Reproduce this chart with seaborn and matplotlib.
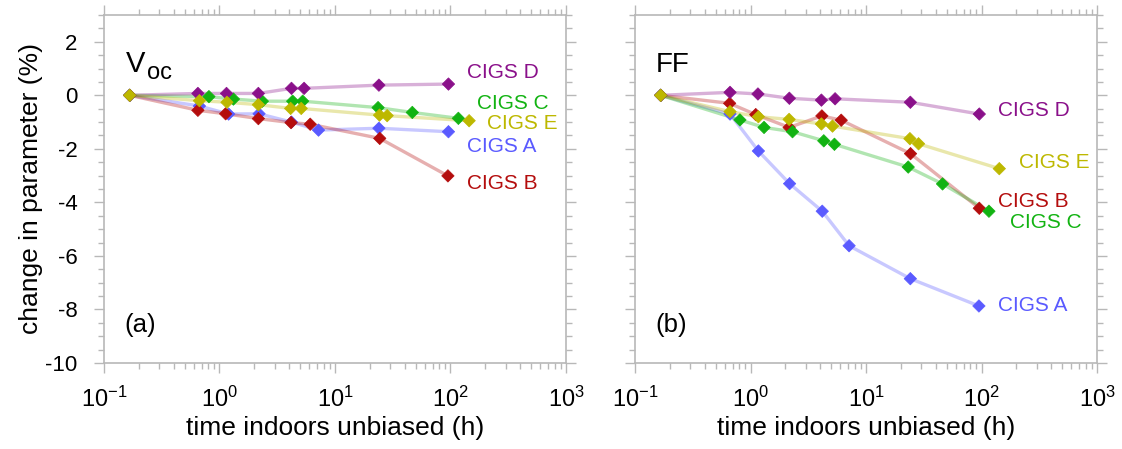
import numpy as np
import pandas as pd
import matplotlib
matplotlib.use("Agg")
import matplotlib.pyplot as plt
from matplotlib.ticker import MultipleLocator, LogLocator
from matplotlib.transforms import offset_copy
import seaborn as sns

# Voc panel (a): time (h) and change (%) per device
voc_t_a = [0.167, 0.67, 1.2, 2.2, 4.2, 7.2, 24, 96]
voc_a = [0, -0.40, -0.70, -0.69, -1.0, -1.30, -1.23, -1.36]
voc_t_b = [0.167, 0.65, 1.13, 2.17, 4.16, 6.1, 24.4, 95]
voc_b = [0, -0.56, -0.69, -0.87, -1.02, -1.08, -1.61, -3.01]
voc_t_c = [0.167, 0.81, 1.32, 2.35, 4.3, 5.25, 23.6, 46.7, 117]
voc_c = [0, -0.05, -0.14, -0.22, -0.22, -0.22, -0.46, -0.64, -0.86]
voc_t_d = [0.167, 0.65, 1.15, 2.17, 4.2, 5.4, 24, 96]
voc_d = [0, 0.07, 0.07, 0.07, 0.26, 0.26, 0.38, 0.42]
voc_t_e = [0.167, 0.67, 1.16, 2.17, 4.13, 5.1, 24.3, 28.3, 145]
voc_e = [0, -0.20, -0.26, -0.35, -0.49, -0.49, -0.74, -0.76, -0.95]

# FF panel (b)
ff_t_a = [0.167, 0.665, 1.17, 2.18, 4.18, 7.14, 24.2, 95]
ff_a = [0, -0.70, -2.08, -3.30, -4.33, -5.62, -6.85, -7.87]
ff_t_b = [0.167, 0.66, 1.11, 2.16, 4.15, 6.1, 24.3, 95.7]
ff_b = [0, -0.30, -0.72, -1.20, -0.77, -0.93, -2.18, -4.22]
ff_t_c = [0.167, 0.81, 1.31, 2.31, 4.31, 5.33, 23.2, 46, 116]
ff_c = [0, -0.92, -1.20, -1.36, -1.70, -1.83, -2.68, -3.31, -4.33]
ff_t_d = [0.167, 0.665, 1.16, 2.17, 4.11, 5.4, 24.2, 95.7]
ff_d = [0, 0.11, 0.05, -0.11, -0.18, -0.13, -0.26, -0.70]
ff_t_e = [0.167, 0.665, 1.17, 2.16, 4.11, 5.13, 24, 28.5, 142.6]
ff_e = [0, -0.61, -0.80, -0.90, -1.07, -1.15, -1.62, -1.81, -2.74]

devices = ["CIGS A", "CIGS B", "CIGS C", "CIGS D", "CIGS E"]
palette = {"CIGS A": "#5a5aff", "CIGS B": "#b40d0d", "CIGS C": "#12b312",
           "CIGS D": "#8a108a", "CIGS E": "#bdb800"}

# label positions (x, y) next to each curve
voc_labels = {"CIGS D": (139, 0.87), "CIGS C": (171, -0.30), "CIGS E": (209, -1.05),
              "CIGS A": (139, -1.90), "CIGS B": (139, -3.3)}
ff_labels = {"CIGS D": (140, -0.58), "CIGS E": (210, -2.5), "CIGS B": (140, -3.95),
             "CIGS C": (176, -4.75), "CIGS A": (140, -7.85)}


def make_frame(times, values):
    rows = []
    for dev, t, v in zip(devices, times, values):
        for ti, vi in zip(t, v):
            rows.append({"device": dev, "time": ti, "change": vi})
    return pd.DataFrame(rows)


voc_df = make_frame([voc_t_a, voc_t_b, voc_t_c, voc_t_d, voc_t_e],
                    [voc_a, voc_b, voc_c, voc_d, voc_e])
ff_df = make_frame([ff_t_a, ff_t_b, ff_t_c, ff_t_d, ff_t_e],
                   [ff_a, ff_b, ff_c, ff_d, ff_e])

sns.set_style("ticks")
plt.rcParams["font.family"] = ["Liberation Sans", "DejaVu Sans"]
plt.rcParams["mathtext.default"] = "regular"
plt.rcParams["axes.unicode_minus"] = False
plt.rcParams["text.color"] = "black"
plt.rcParams["axes.labelcolor"] = "black"
plt.rcParams["xtick.labelcolor"] = "black"
plt.rcParams["ytick.labelcolor"] = "black"

fig = plt.figure(figsize=(11.22, 4.49), dpi=100)
ax1 = fig.add_axes([104 / 1122, 86 / 449, 462 / 1122, 348 / 449])
ax2 = fig.add_axes([635 / 1122, 86 / 449, 462 / 1122, 348 / 449])

spine_grey = "#b8b8b8"


def draw_panel(ax, df, labels, tag):
    sns.lineplot(data=df, x="time", y="change", hue="device", hue_order=devices,
                 palette=palette, estimator=None, sort=False, lw=2.4, alpha=0.33,
                 legend=False, ax=ax)
    sns.scatterplot(data=df, x="time", y="change", hue="device", hue_order=devices,
                    palette=palette, marker="D", s=40, edgecolor="face",
                    linewidth=0.5, legend=False, ax=ax, zorder=3)
    ax.set_xscale("log")
    ax.set_xlim(0.1, 1000)
    ax.set_ylim(-10, 3)
    ax.yaxis.set_major_locator(MultipleLocator(2))
    ax.yaxis.set_minor_locator(MultipleLocator(0.5))
    ax.xaxis.set_major_locator(LogLocator(base=10, numticks=10))
    ax.xaxis.set_minor_locator(LogLocator(base=10, subs=np.arange(2, 10), numticks=10))
    ax.tick_params(which="both", direction="out", top=True, right=True,
                   color=spine_grey, labelsize=16, width=1)
    ax.tick_params(which="major", length=7)
    ax.tick_params(which="minor", length=4)
    ax.tick_params(axis="x", which="major", pad=10, labelsize=17)
    ax.tick_params(axis="y", which="major", pad=12)
    for sp in ax.spines.values():
        sp.set_color(spine_grey)
        sp.set_linewidth(1.2)
    ax.set_xlabel("time indoors unbiased (h)", fontsize=19, labelpad=3)
    for dev, (x, y) in labels.items():
        ax.text(x, y, dev, color=palette[dev], fontsize=15, ha="left", va="center")
    ax.text(0.045, 0.11, tag, transform=ax.transAxes, fontsize=18.5, ha="left", va="center")


draw_panel(ax1, voc_df, voc_labels, "(a)")
draw_panel(ax2, ff_df, ff_labels, "(b)")

# panel names
ax1.text(0.048, 0.835, "V", transform=ax1.transAxes, fontsize=21, ha="left", va="baseline")
ax1.text(0.048, 0.835, "oc",
         transform=offset_copy(ax1.transAxes, fig=fig, x=15, y=-5, units="points"),
         fontsize=17, ha="left", va="baseline")
ax2.text(0.045, 0.835, "FF", transform=ax2.transAxes, fontsize=20, ha="left", va="baseline")

ax1.set_ylabel("change in parameter (%)", fontsize=19, labelpad=2)
ax2.set_ylabel("")
ax2.tick_params(labelleft=False)

fig.savefig("out.png", dpi=100)
